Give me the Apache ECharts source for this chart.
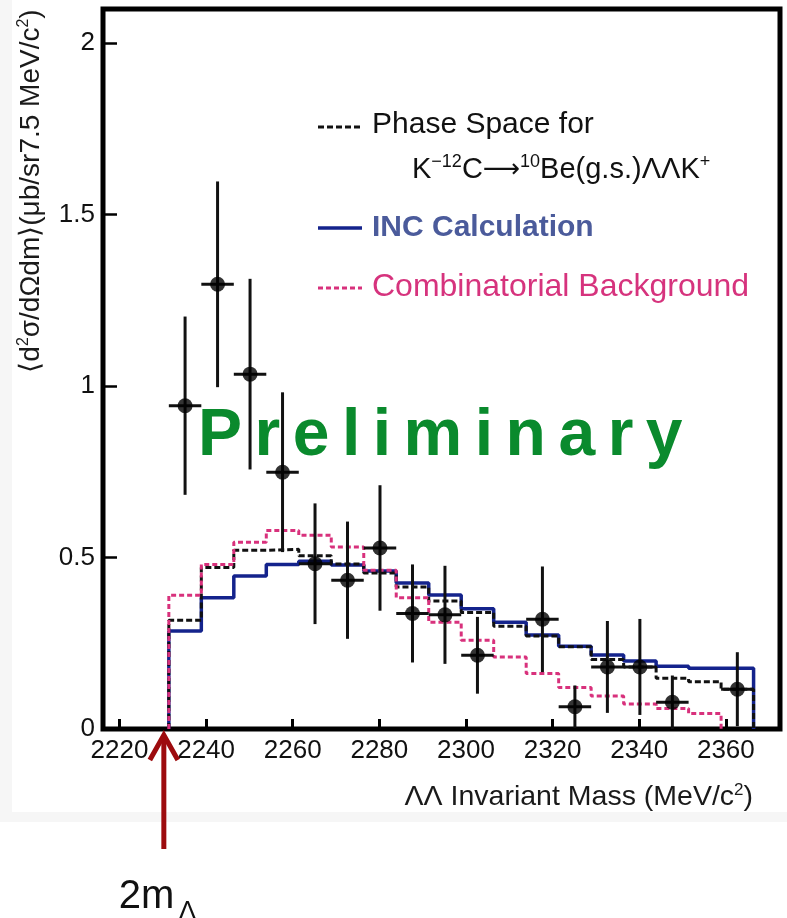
<!DOCTYPE html>
<html>
<head>
<meta charset="utf-8">
<script src="https://cdn.jsdelivr.net/npm/echarts@6/dist/echarts.min.js"></script>
<style>
  html, body { margin: 0; padding: 0; background: #fff; }
  #chart { width: 787px; height: 918px; }
</style>
</head>
<body>
<div id="chart"></div>
<script>
// ΛΛ invariant-mass spectrum, 7.5 MeV/c² bins starting at the 2mΛ threshold
const BIN_EDGES = [2231.4, 2238.9, 2246.4, 2253.9, 2261.4, 2268.9, 2276.4, 2283.9, 2291.4,
                   2298.9, 2306.4, 2313.9, 2321.4, 2328.9, 2336.4, 2343.9, 2351.4, 2358.9, 2366.4];

// INC calculation (solid blue histogram)
const INC_CALC = [0.286, 0.383, 0.446, 0.480, 0.489, 0.478, 0.461, 0.426, 0.391,
                  0.351, 0.311, 0.274, 0.241, 0.216, 0.198, 0.183, 0.177, 0.177];

// Phase space for K- 12C -> 10Be(g.s.) ΛΛ K+ (black dotted histogram)
const PHASE_SPACE = [0.317, 0.471, 0.521, 0.524, 0.505, 0.481, 0.455, 0.414, 0.373,
                     0.340, 0.300, 0.271, 0.240, 0.203, 0.181, 0.148, 0.138, 0.116];

// Combinatorial background (pink dotted histogram)
const COMB_BG = [0.390, 0.480, 0.545, 0.579, 0.565, 0.531, 0.463, 0.383, 0.311,
                 0.259, 0.210, 0.162, 0.121, 0.096, 0.073, 0.060, 0.045];

// Measured cross sections per bin (null = no entry) and their errors
const DATA_Y   = [0.943, 1.297, 1.035, 0.749, 0.482, 0.434, 0.528, 0.337, 0.333,
                  0.215, null, 0.320, 0.065, 0.181, 0.181, 0.078, null, 0.116];
const DATA_ERR = [0.260, 0.300, 0.278, 0.233, 0.176, 0.171, 0.183, 0.143, 0.143,
                  0.112, null, 0.154, 0.062, 0.134, 0.140, 0.078, null, 0.108];

// Axis ranges and tick labels
const X_RANGE = [2216.2, 2372.5];
const X_TICKS = [2220, 2240, 2260, 2280, 2300, 2320, 2340, 2360];
const Y_RANGE = [0, 2.1];
const Y_TICKS = [0, 0.5, 1, 1.5, 2];
const TWO_M_LAMBDA = 2231.4;

const FONT = '"Liberation Sans", Arial, sans-serif';

function stepPoints(vals) {
  const pts = [[BIN_EDGES[0], 0]];
  vals.forEach((v, i) => pts.push([BIN_EDGES[i], v]));
  pts.push([BIN_EDGES[vals.length], 0]);
  return pts;
}

const points = [];
DATA_Y.forEach((y, i) => {
  if (y === null) return;
  const lo = BIN_EDGES[i], hi = BIN_EDGES[i + 1];
  points.push([(lo + hi) / 2, y, DATA_ERR[i], (hi - lo) / 2]);
});

const chart = echarts.init(document.getElementById('chart'), null, { renderer: 'canvas' });

const option = {
  backgroundColor: '#ffffff',
  animation: false,
  grid: {
    left: 103, right: 7, top: 9, bottom: 189,
    show: true, borderColor: '#000', borderWidth: 5, backgroundColor: 'transparent'
  },
  xAxis: {
    type: 'value',
    min: X_RANGE[0], max: X_RANGE[1],
    axisLine: { show: false },
    splitLine: { show: false },
    axisTick: { show: true, inside: true, length: 10, customValues: X_TICKS,
                lineStyle: { color: '#000', width: 3 } },
    axisLabel: {
      customValues: X_TICKS, margin: 9,
      color: '#111', fontSize: 26, fontFamily: FONT,
      formatter: v => String(v)
    }
  },
  yAxis: {
    type: 'value',
    min: Y_RANGE[0], max: Y_RANGE[1],
    axisLine: { show: false },
    splitLine: { show: false },
    axisTick: { show: true, inside: true, length: 14, customValues: Y_TICKS,
                lineStyle: { color: '#000', width: 2.5 } },
    axisLabel: {
      customValues: Y_TICKS, margin: 8,
      color: '#111', fontSize: 26, fontFamily: FONT,
      formatter: v => String(v)
    }
  },
  series: [
    {
      name: 'INC Calculation', type: 'line', step: 'end', symbol: 'none',
      data: stepPoints(INC_CALC), z: 3,
      lineStyle: { color: '#14238c', width: 3.5 }
    },
    {
      name: 'Phase Space', type: 'line', step: 'end', symbol: 'none',
      data: stepPoints(PHASE_SPACE), z: 4,
      lineStyle: { color: '#111', width: 3, type: [6, 3] }
    },
    {
      name: 'Combinatorial Background', type: 'line', step: 'end', symbol: 'none',
      data: stepPoints(COMB_BG), z: 5,
      lineStyle: { color: '#d8317c', width: 3, type: [5, 3] }
    },
    {
      name: 'Data errors', type: 'custom', z: 6,
      data: points,
      encode: { x: 0, y: 1 },
      renderItem: (params, api) => {
        const x = api.value(0), y = api.value(1), e = api.value(2), hw = api.value(3);
        const top = api.coord([x, y + e]);
        const bot = api.coord([x, Math.max(0, y - e)]);
        const l = api.coord([x - hw, y]);
        const r = api.coord([x + hw, y]);
        const st = { stroke: '#111', lineWidth: 3 };
        return {
          type: 'group',
          children: [
            { type: 'line', shape: { x1: top[0], y1: top[1], x2: bot[0], y2: bot[1] }, style: st },
            { type: 'line', shape: { x1: l[0], y1: l[1], x2: r[0], y2: r[1] }, style: st }
          ]
        };
      }
    },
    {
      name: 'Data', type: 'scatter', z: 7,
      data: points.map(p => [p[0], p[1]]),
      symbol: 'circle', symbolSize: 15,
      itemStyle: { color: '#000' }
    }
  ]
};

chart.setOption(option);

// ---- annotations: backdrop, titles, legend, watermark, threshold arrow ----
const g = [];

// backdrop
g.push({ type: 'rect', z: -100, shape: { x: 0, y: 0, width: 787, height: 822 }, style: { fill: '#f6f6f6' } });
g.push({ type: 'rect', z: -99, shape: { x: 12, y: 0, width: 775, height: 812 }, style: { fill: '#ffffff' } });

// y-axis title (rotated, reads bottom to top)
g.push({
  type: 'text', z: 50,
  x: 31, y: 191, rotation: Math.PI / 2,
  style: {
    text: '⟨d{s|2}σ/dΩdm⟩(μb/sr7.5 MeV/c{s|2})',
    fontFamily: FONT, fontSize: 28, fill: '#1a1a1a',
    align: 'center', verticalAlign: 'middle',
    rich: { s: { fontSize: 16, fontFamily: FONT, fill: '#1a1a1a', verticalAlign: 'top', lineHeight: 30 } }
  }
});

// x-axis title
g.push({
  type: 'text', z: 50, x: 753, y: 797,
  style: {
    text: 'ΛΛ Invariant Mass (MeV/c{s|2})',
    fontFamily: FONT, fontSize: 28.5, fill: '#1a1a1a',
    align: 'right', verticalAlign: 'middle',
    rich: { s: { fontSize: 17, fontFamily: FONT, fill: '#1a1a1a', verticalAlign: 'top', lineHeight: 31 } }
  }
});

// legend
const LEG_X0 = 318, LEG_X1 = 362, LEG_TX = 372;
g.push({ type: 'line', z: 50, shape: { x1: LEG_X0, y1: 127, x2: LEG_X1, y2: 127 },
         style: { stroke: '#111', lineWidth: 3, lineDash: [6, 3] } });
g.push({ type: 'text', z: 50, x: LEG_TX, y: 125,
         style: { text: 'Phase Space for', fontFamily: FONT, fontSize: 30, fill: '#111', align: 'left', verticalAlign: 'middle' } });
g.push({ type: 'text', z: 50, x: 412, y: 170,
         style: { text: 'K{s|−12}C{a|⟶}{s|10}Be(g.s.)ΛΛK{s|+}', fontFamily: FONT, fontSize: 29, fill: '#111',
                  align: 'left', verticalAlign: 'middle',
                  rich: {
                    s: { fontSize: 18, fontFamily: FONT, fill: '#111', verticalAlign: 'top', lineHeight: 34 },
                    a: { fontSize: 26, fontFamily: '"DejaVu Sans", sans-serif', fill: '#111', verticalAlign: 'middle', lineHeight: 34 }
                  } } });
g.push({ type: 'line', z: 50, shape: { x1: LEG_X0, y1: 228, x2: LEG_X1, y2: 228 },
         style: { stroke: '#14238c', lineWidth: 3.5 } });
g.push({ type: 'text', z: 50, x: LEG_TX, y: 228,
         style: { text: 'INC Calculation', fontFamily: FONT, fontSize: 30, fontWeight: 'bold', fill: '#4b5b9b', align: 'left', verticalAlign: 'middle' } });
g.push({ type: 'line', z: 50, shape: { x1: LEG_X0, y1: 288, x2: LEG_X1, y2: 288 },
         style: { stroke: '#d8317c', lineWidth: 3, lineDash: [5, 3] } });
g.push({ type: 'text', z: 50, x: LEG_TX, y: 287,
         style: { text: 'Combinatorial Background', fontFamily: FONT, fontSize: 32, fill: '#d6337d', align: 'left', verticalAlign: 'middle' } });

// "Preliminary" watermark, letter-spaced
(function () {
  const word = 'Preliminary';
  const size = 66, gap = 12.5;
  const ctx = document.createElement('canvas').getContext('2d');
  ctx.font = 'bold ' + size + 'px ' + FONT;
  let x = 198;
  for (const ch of word) {
    g.push({ type: 'text', z: 1, x: x, y: 437,
             style: { text: ch, fontFamily: FONT, fontSize: size, fontWeight: 'bold', fill: '#0a8a2d',
                      align: 'left', verticalAlign: 'middle' } });
    x += ctx.measureText(ch).width + gap;
  }
})();

// 2mΛ threshold arrow below the mass axis
(function () {
  const ax = chart.convertToPixel({ xAxisIndex: 0 }, TWO_M_LAMBDA) - 5;
  const red = '#9d0b0e';
  g.push({ type: 'line', z: 50, shape: { x1: ax, y1: 849, x2: ax, y2: 736 },
           style: { stroke: red, lineWidth: 5 } });
  g.push({ type: 'polyline', z: 50, shape: { points: [[ax - 14, 760], [ax, 735], [ax + 14, 760]] },
           style: { stroke: red, lineWidth: 5, fill: null } });
  g.push({ type: 'text', z: 50, x: ax - 45, y: 897,
           style: { text: '2m', fontFamily: FONT, fontSize: 40, fill: '#111', align: 'left', verticalAlign: 'middle' } });
  g.push({ type: 'text', z: 50, x: ax + 15, y: 912,
           style: { text: 'Λ', fontFamily: FONT, fontSize: 26, fill: '#111', align: 'left', verticalAlign: 'middle' } });
})();

chart.setOption({ graphic: { elements: g } });
</script>
</body>
</html>
